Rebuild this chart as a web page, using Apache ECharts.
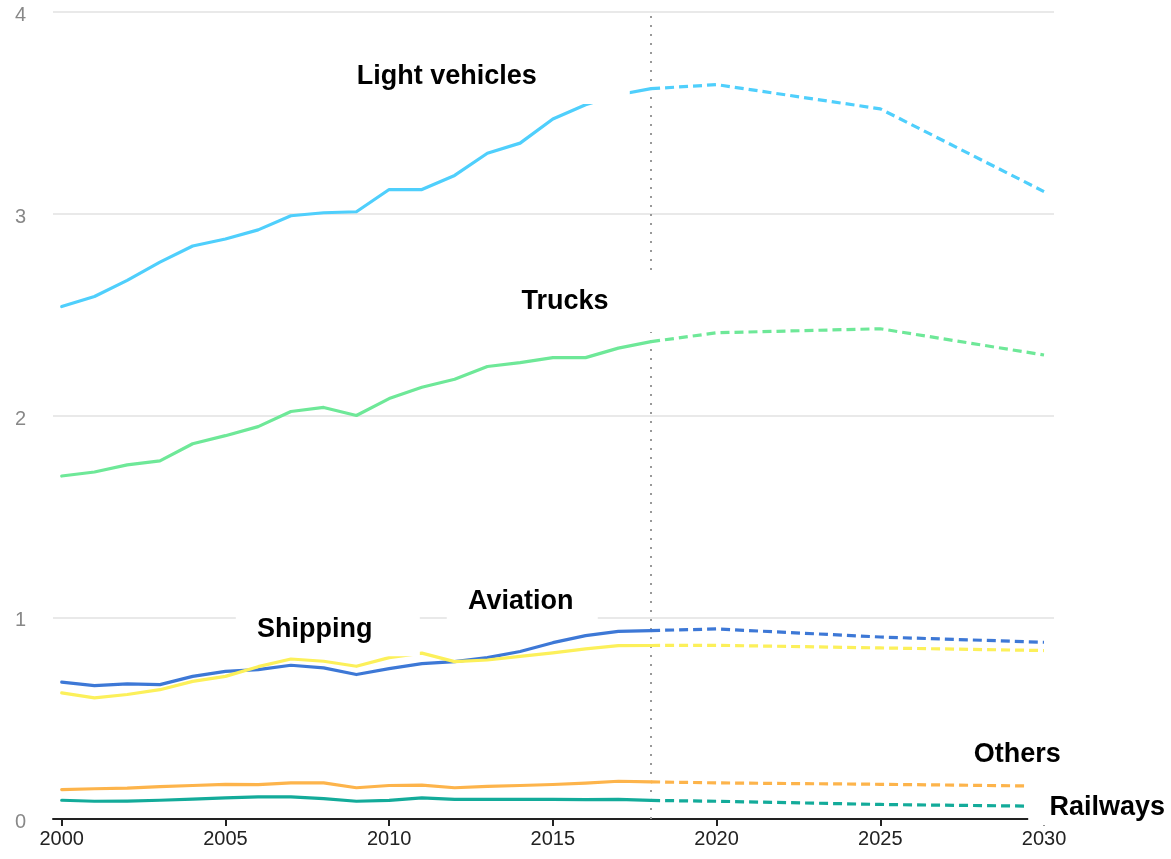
<!DOCTYPE html>
<html>
<head>
<meta charset="utf-8">
<script src="https://cdn.jsdelivr.net/npm/echarts@6/dist/echarts.min.js"></script>
<style>
  html, body { margin: 0; padding: 0; background: #fff; }
  #chart { width: 1171px; height: 859px; }
</style>
</head>
<body>
<div id="chart"></div>
<script>
// ---- data ----
const histYears = [2000,2001,2002,2003,2004,2005,2006,2007,2008,2009,2010,2011,2012,2013,2014,2015,2016,2017,2018];
const projYears = [2018,2020,2025,2030];
const xTicks = [2000,2005,2010,2015,2020,2025,2030];
const yTicks = [0,1,2,3,4];
const splitYear = 2018;

const categories = ['Light vehicles','Trucks','Aviation','Shipping','Others','Railways'];

const lightHist    = [2.54,2.59,2.67,2.76,2.84,2.875,2.92,2.99,3.005,3.01,3.12,3.12,3.19,3.30,3.35,3.47,3.54,3.59,3.62];
const lightProj    = [3.62,3.64,3.52,3.11];
const trucksHist   = [1.70,1.72,1.755,1.775,1.86,1.90,1.945,2.02,2.04,2.00,2.084,2.14,2.18,2.243,2.262,2.287,2.287,2.334,2.366];
const trucksProj   = [2.366,2.41,2.43,2.30];
const aviationHist = [0.678,0.661,0.67,0.666,0.707,0.732,0.74,0.762,0.749,0.716,0.745,0.77,0.78,0.80,0.83,0.874,0.909,0.93,0.934];
const aviationProj = [0.934,0.942,0.902,0.876];
const shippingHist = [0.625,0.60,0.617,0.641,0.682,0.707,0.755,0.793,0.782,0.757,0.80,0.822,0.78,0.788,0.806,0.823,0.843,0.859,0.86];
const shippingProj = [0.86,0.861,0.848,0.835];
const othersHist   = [0.146,0.15,0.153,0.16,0.166,0.172,0.17,0.179,0.179,0.155,0.166,0.168,0.155,0.162,0.166,0.171,0.178,0.187,0.184];
const othersProj   = [0.184,0.179,0.172,0.163];
const railHist     = [0.093,0.088,0.089,0.093,0.099,0.105,0.11,0.11,0.101,0.088,0.092,0.105,0.097,0.097,0.097,0.097,0.096,0.097,0.092];
const railProj     = [0.092,0.088,0.072,0.063];

// ---- styles / layout ----
const colors = {
  'Light vehicles': '#4fcffc',
  'Trucks': '#6ee898',
  'Aviation': '#3d78d6',
  'Shipping': '#fcf05a',
  'Others': '#fdb44b',
  'Railways': '#13ab9a'
};
const histMap = {
  'Light vehicles': lightHist, 'Trucks': trucksHist, 'Aviation': aviationHist,
  'Shipping': shippingHist, 'Others': othersHist, 'Railways': railHist
};
const projMap = {
  'Light vehicles': lightProj, 'Trucks': trucksProj, 'Aviation': aviationProj,
  'Shipping': shippingProj, 'Others': othersProj, 'Railways': railProj
};
// label anchors in data coordinates + white box extents in px (left,right,top,bottom)
const labelLayout = {
  'Light vehicles': { at: [2011.76, 3.678], box: [-107, 183, -27, 27] },
  'Trucks':         { at: [2015.37, 2.563], box: [-95, 90, -31, 30] },
  'Aviation':       { at: [2014.02, 1.077], box: [-74, 77, -22, 24] },
  'Shipping':       { at: [2007.73, 0.9386], box: [-79, 105, -25, 26.5] },
  'Others':         { at: [2029.18, 0.3195], box: [-57, 58, -20, 20] },
  'Railways':       { at: [2031.93, 0.057], box: [-79, 70, -25, 18] }
};

const series = [];
categories.forEach(function (name, i) {
  const h = histMap[name], p = projMap[name];
  const s = {
    name: name, type: 'line', symbol: 'none', silent: true, z: 3,
    data: histYears.map(function (y, k) { return [y, h[k]]; }),
    lineStyle: { color: colors[name], width: 3.2, join: 'round', cap: 'round' }
  };
  if (i === 0) {
    s.markLine = {
      silent: true, symbol: 'none', label: { show: false },
      lineStyle: { color: '#999', width: 2, type: [2, 7] },
      data: [[{ coord: [splitYear, 0] }, { coord: [splitYear, 4] }]],
      z: 1
    };
  }
  series.push(s);
  series.push({
    name: name + ' (proj)', type: 'line', symbol: 'none', silent: true, z: 3,
    data: projYears.map(function (y, k) { return [y, p[k]]; }),
    lineStyle: { color: colors[name], width: 3.2, type: [9, 5], join: 'round' }
  });
});

const chart = echarts.init(document.getElementById('chart'), null, { renderer: 'canvas' });
chart.setOption({
  animation: false,
  backgroundColor: '#fff',
  grid: { left: 53, right: 117, top: 12, bottom: 40 },
  xAxis: {
    type: 'value', min: 1999.734, max: 2030.305,
    axisLine: { show: true, lineStyle: { color: '#222', width: 2 } },
    axisTick: { show: true, length: 7, lineStyle: { color: '#222', width: 2 }, customValues: xTicks },
    axisLabel: {
      customValues: xTicks, color: '#222', fontSize: 20, margin: 10,
      fontFamily: 'Liberation Sans, Arial, sans-serif',
      formatter: function (v) { return String(v); }
    },
    splitLine: { show: false }
  },
  yAxis: {
    type: 'value', min: 0, max: 4, interval: 1,
    axisLine: { show: false }, axisTick: { show: false },
    axisLabel: {
      margin: 27,
      formatter: function (v) { return '{a|' + v + '}'; },
      rich: { a: { color: '#888', fontSize: 20, padding: [7, 0, 0, 0],
                   fontFamily: 'Liberation Sans, Arial, sans-serif' } }
    },
    splitLine: { show: true, lineStyle: { color: '#e2e2e2', width: 1.5 } }
  },
  series: series
});

// labels with white boxes positioned from data coordinates
const graphics = categories.map(function (name) {
  const L = labelLayout[name];
  const pt = chart.convertToPixel({ gridIndex: 0 }, L.at);
  const b = L.box;
  return {
    type: 'group', x: pt[0], y: pt[1], z: 100,
    children: [
      { type: 'rect', shape: { x: b[0], y: b[2], width: b[1] - b[0], height: b[3] - b[2] },
        style: { fill: '#ffffff' }, z: 100 },
      { type: 'text', x: 0, y: 0, z: 101,
        style: { text: name, fill: '#000', font: 'bold 27px "Liberation Sans", Arial, sans-serif',
                 textAlign: 'center', textVerticalAlign: 'middle' } }
    ]
  };
});
chart.setOption({ graphic: graphics });
</script>
</body>
</html>
